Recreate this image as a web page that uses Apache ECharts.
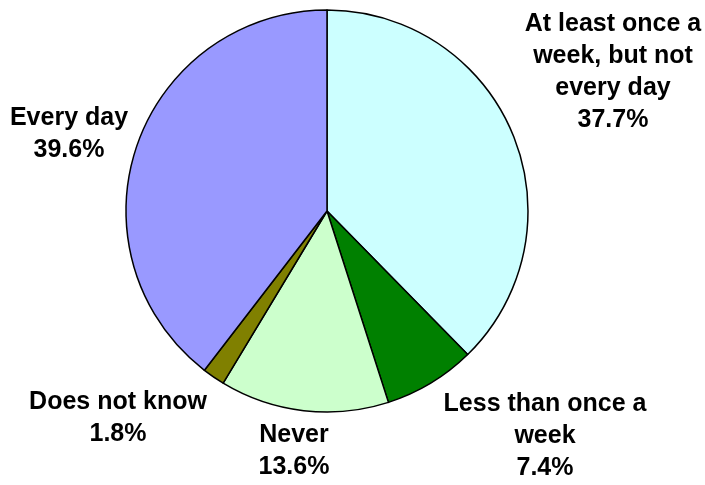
<!DOCTYPE html>
<html>
<head>
<meta charset="utf-8">
<script src="https://cdn.jsdelivr.net/npm/echarts@6/dist/echarts.min.js"></script>
<style>
html,body{margin:0;padding:0;background:#fff;}
#chart{width:705px;height:485px;}
</style>
</head>
<body>
<div id="chart"></div>
<script>
// Data
const categories = [
  "At least once a\nweek, but not\nevery day",
  "Less than once a\nweek",
  "Never",
  "Does not know",
  "Every day"
];
const percentages = [37.7, 7.4, 13.6, 1.8, 39.6];
const sliceColors = ["#CCFFFF", "#008000", "#CCFFCC", "#808000", "#9999FF"];

// Label anchor positions (layout only)
const labelPos = [
  [613, 72],
  [545, 436],
  [294, 451],
  [118, 418],
  [69, 134]
];

const chart = echarts.init(document.getElementById('chart'), null, {renderer: 'canvas'});
chart.setOption({
  animation: false,
  backgroundColor: '#ffffff',
  series: [{
    type: 'pie',
    center: [327, 211],
    radius: 201,
    startAngle: 90,
    clockwise: true,
    avoidLabelOverlap: false,
    data: categories.map((c, i) => ({
      name: c,
      value: percentages[i],
      itemStyle: {color: sliceColors[i]}
    })),
    itemStyle: {borderColor: '#000', borderWidth: 1.5},
    emphasis: {disabled: true},
    label: {
      show: true,
      position: 'outside',
      formatter: p => p.name + '\n' + p.value.toFixed(1) + '%',
      color: '#000',
      fontFamily: 'Arial, "Liberation Sans", sans-serif',
      fontWeight: 'bold',
      fontSize: 25,
      lineHeight: 32,
      align: 'center'
    },
    labelLine: {show: false},
    labelLayout: function (params) {
      const p = labelPos[params.dataIndex];
      return {x: p[0], y: p[1], align: 'center', verticalAlign: 'middle', hideOverlap: false, moveOverlap: null};
    }
  }]
});
</script>
</body>
</html>
